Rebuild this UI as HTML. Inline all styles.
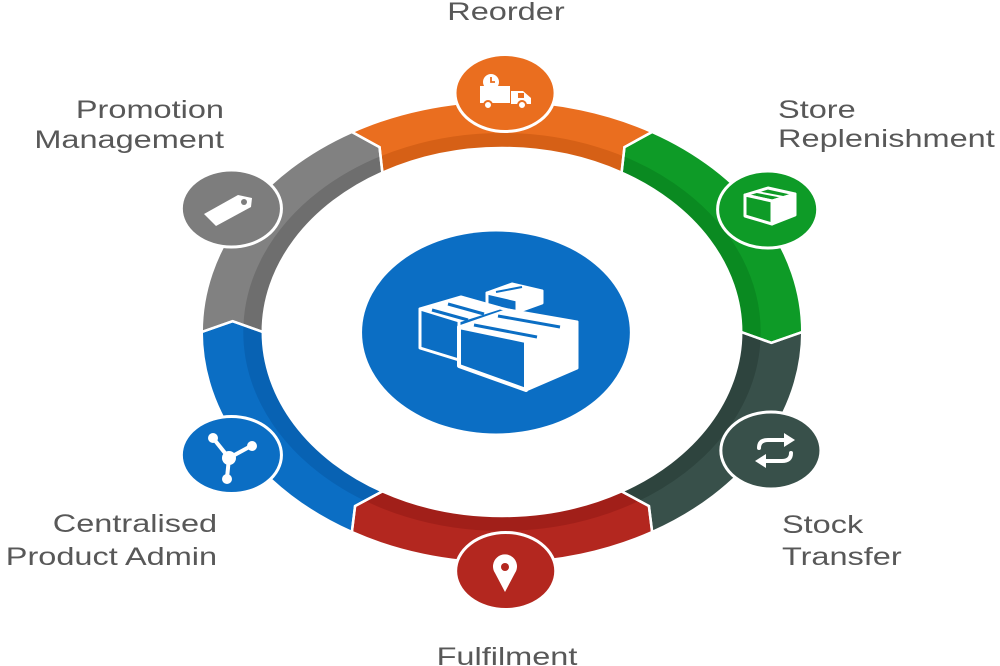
<!DOCTYPE html>
<html>
<head>
<meta charset="utf-8">
<style>
  html, body { margin:0; padding:0; background:#fff; }
  body { width:1000px; height:666px; overflow:hidden; }
  svg { display:block; }
  text { font-family:"Liberation Sans", "DejaVu Sans", sans-serif; font-size:25px; fill:#585858; }
</style>
</head>
<body>
<svg width="1000" height="666" viewBox="0 0 1000 666" xmlns="http://www.w3.org/2000/svg">
  <rect x="0" y="0" width="1000" height="666" fill="#ffffff"/>
  <defs>
    <clipPath id="cg"><path d="M617.15,332 A231,231 0 0 0 501.65,131.95 L480.35,147.12 L478.15,172.65 A184,184 0 0 1 570.15,332 L593.37,342.86 Z"/></clipPath>
    <clipPath id="co"><path d="M501.65,131.95 A231,231 0 0 0 270.65,131.95 L291.95,147.12 L294.15,172.65 A184,184 0 0 1 478.15,172.65 L480.35,147.12 Z"/></clipPath>
    <clipPath id="cy"><path d="M270.65,131.95 A231,231 0 0 0 155.15,332 L178.93,321.14 L202.15,332 A184,184 0 0 1 294.15,172.65 L291.95,147.12 Z"/></clipPath>
    <clipPath id="cb"><path d="M155.15,332 A231,231 0 0 0 270.65,532.05 L273.14,506.02 L294.15,491.35 A184,184 0 0 1 202.15,332 L178.93,321.14 Z"/></clipPath>
    <clipPath id="cr"><path d="M270.65,532.05 A231,231 0 0 0 501.65,532.05 L499.16,506.02 L478.15,491.35 A184,184 0 0 1 294.15,491.35 L273.14,506.02 Z"/></clipPath>
    <clipPath id="cd"><path d="M501.65,532.05 A231,231 0 0 0 617.15,332 L593.37,342.86 L570.15,332 A184,184 0 0 1 478.15,491.35 L499.16,506.02 Z"/></clipPath>
  </defs>

  <g transform="scale(1.3,1)">
    <!-- Green -->
    <g clip-path="url(#cg)">
      <rect x="0" y="0" width="800" height="666" fill="#0e9b27"/>
      <circle cx="386.15" cy="332" r="191.5" fill="none" stroke="#0a8a21" stroke-width="15"/>
    </g>
    <!-- Orange -->
    <g clip-path="url(#co)">
      <rect x="0" y="0" width="800" height="666" fill="#ea6e1f"/>
      <circle cx="386.15" cy="332" r="191.5" fill="none" stroke="#d66016" stroke-width="15"/>
    </g>
    <!-- Gray -->
    <g clip-path="url(#cy)">
      <rect x="0" y="0" width="800" height="666" fill="#818181"/>
      <circle cx="386.15" cy="332" r="191.5" fill="none" stroke="#6e6e6e" stroke-width="15"/>
    </g>
    <!-- Blue -->
    <g clip-path="url(#cb)">
      <rect x="0" y="0" width="800" height="666" fill="#0b6ec4"/>
      <circle cx="386.15" cy="332" r="191.5" fill="none" stroke="#0862b3" stroke-width="15"/>
    </g>
    <!-- Red -->
    <g clip-path="url(#cr)">
      <rect x="0" y="0" width="800" height="666" fill="#b3271f"/>
      <circle cx="386.15" cy="332" r="191.5" fill="none" stroke="#a11f19" stroke-width="15"/>
    </g>
    <!-- Dark slate -->
    <g clip-path="url(#cd)">
      <rect x="0" y="0" width="800" height="666" fill="#38504a"/>
      <circle cx="386.15" cy="332" r="191.5" fill="none" stroke="#2e443e" stroke-width="15"/>
    </g>

    <!-- white separators -->
    <g fill="none" stroke="#ffffff" stroke-width="2.5" vector-effect="non-scaling-stroke">
      <path vector-effect="non-scaling-stroke" d="M617.15,332 A231,231 0 0 0 501.65,131.95 L480.35,147.12 L478.15,172.65 A184,184 0 0 1 570.15,332 L593.37,342.86 Z"/>
      <path vector-effect="non-scaling-stroke" d="M501.65,131.95 A231,231 0 0 0 270.65,131.95 L291.95,147.12 L294.15,172.65 A184,184 0 0 1 478.15,172.65 L480.35,147.12 Z"/>
      <path vector-effect="non-scaling-stroke" d="M270.65,131.95 A231,231 0 0 0 155.15,332 L178.93,321.14 L202.15,332 A184,184 0 0 1 294.15,172.65 L291.95,147.12 Z"/>
      <path vector-effect="non-scaling-stroke" d="M155.15,332 A231,231 0 0 0 270.65,532.05 L273.14,506.02 L294.15,491.35 A184,184 0 0 1 202.15,332 L178.93,321.14 Z"/>
      <path vector-effect="non-scaling-stroke" d="M270.65,532.05 A231,231 0 0 0 501.65,532.05 L499.16,506.02 L478.15,491.35 A184,184 0 0 1 294.15,491.35 L273.14,506.02 Z"/>
      <path vector-effect="non-scaling-stroke" d="M501.65,532.05 A231,231 0 0 0 617.15,332 L593.37,342.86 L570.15,332 A184,184 0 0 1 478.15,491.35 L499.16,506.02 Z"/>
    </g>

    <!-- node circles -->
    <g stroke="#ffffff" stroke-width="3">
      <circle vector-effect="non-scaling-stroke" cx="388.5" cy="93" r="38.5" fill="#ea6e1f"/>
      <circle vector-effect="non-scaling-stroke" cx="590.5" cy="209.5" r="38.5" fill="#0e9b27"/>
      <circle vector-effect="non-scaling-stroke" cx="593" cy="450.5" r="38.5" fill="#38504a"/>
      <circle vector-effect="non-scaling-stroke" cx="389" cy="571" r="38.5" fill="#b3271f"/>
      <circle vector-effect="non-scaling-stroke" cx="178" cy="455" r="38.5" fill="#0b6ec4"/>
      <circle vector-effect="non-scaling-stroke" cx="178" cy="208.5" r="38.5" fill="#7d7d7d"/>
    </g>

    <!-- center circle -->
    <ellipse cx="381.5" cy="332.5" rx="103" ry="101" fill="#0b6ec4"/>

    <!-- labels -->
    <text x="389.2" y="20" text-anchor="middle">Reorder</text>
    <text x="172.3" y="118" text-anchor="end">Promotion</text>
    <text x="172.3" y="148" text-anchor="end">Management</text>
    <text x="598.5" y="118" text-anchor="start">Store</text>
    <text x="598.5" y="147" text-anchor="start">Replenishment</text>
    <text x="167" y="532" text-anchor="end">Centralised</text>
    <text x="167" y="565" text-anchor="end">Product Admin</text>
    <text x="601.5" y="533" text-anchor="start">Stock</text>
    <text x="601.5" y="565" text-anchor="start">Transfer</text>
    <text x="390" y="665" text-anchor="middle">Fulfilment</text>
  </g>

  <!-- ===== Icons (original coordinates) ===== -->

  <!-- Center boxes -->
  <g stroke="#ffffff" stroke-width="3" stroke-linejoin="round">
    <!-- small back box -->
    <polygon points="487,293 512,284 542,291 517,300" fill="#ffffff"/>
    <polygon points="487,293 517,300 517,312 487,305" fill="#0b6ec4"/>
    <polygon points="517,300 542,291 542,303 517,312" fill="#ffffff"/>
    <line x1="496" y1="292" x2="522" y2="287" stroke="#0b6ec4" stroke-width="2"/>
    <!-- left box -->
    <polygon points="420,309 461,297 500,308 459,321" fill="#ffffff"/>
    <polygon points="420,309 459,321 459,360 420,348" fill="#0b6ec4"/>
    <line x1="432" y1="310" x2="468" y2="320" stroke="#0b6ec4" stroke-width="3"/>
    <line x1="448" y1="304" x2="484" y2="314" stroke="#0b6ec4" stroke-width="3"/>
    <!-- front box -->
    <polygon points="459,327 508,310 577,322 526,341" fill="#ffffff"/>
    <polygon points="459,327 526,341 526,390 459,366" fill="#0b6ec4" stroke-width="4"/>
    <polygon points="526,341 577,322 577,368 526,390" fill="#ffffff"/>
    <line x1="474" y1="325" x2="537" y2="337" stroke="#0b6ec4" stroke-width="3"/>
    <line x1="498" y1="316" x2="560" y2="327" stroke="#0b6ec4" stroke-width="3"/>
  </g>

  <!-- Truck (Reorder) -->
  <g>
    <rect x="480" y="86" width="30" height="17" fill="#ffffff"/>
    <path d="M511,91 L523,91 L531,98 L531,104 L511,104 Z" fill="#ffffff"/>
    <rect x="518" y="93" width="6" height="5" fill="#ea6e1f"/>
    <circle cx="491" cy="82" r="8" fill="#ffffff"/>
    <path d="M491,77 L491,82 L495,82" fill="none" stroke="#ea6e1f" stroke-width="1.8"/>
    <circle cx="488" cy="105" r="4" fill="#ffffff" stroke="#ea6e1f" stroke-width="2"/>
    <circle cx="522" cy="105" r="4" fill="#ffffff" stroke="#ea6e1f" stroke-width="2"/>
  </g>

  <!-- Cube (Store Replenishment) -->
  <g stroke="#ffffff" stroke-width="3" stroke-linejoin="round">
    <polygon points="745,195 768,188 795,194 772,201" fill="#0e9b27"/>
    <polygon points="745,195 772,201 772,224 745,216" fill="#0e9b27"/>
    <polygon points="772,201 795,194 795,215 772,224" fill="#ffffff"/>
    <line x1="757" y1="192" x2="783" y2="197" stroke-width="2"/>
  </g>

  <!-- Exchange arrows (Stock Transfer) -->
  <g fill="none" stroke="#ffffff" stroke-width="4" stroke-linecap="round">
    <path d="M759,448 Q759,440 768,440 L786,440"/>
    <path d="M791,453 Q791,461 782,461 L764,461"/>
  </g>
  <polygon points="784,433 795,440 784,447" fill="#ffffff"/>
  <polygon points="766,454 755,461 766,468" fill="#ffffff"/>

  <!-- Map pin (Fulfilment) -->
  <path d="M505,592 L495,573 A12,12 0 1 1 515,573 Z" fill="#ffffff"/>
  <circle cx="505" cy="567" r="4" fill="#b3271f"/>

  <!-- Network (Centralised Product Admin) -->
  <g stroke="#ffffff" stroke-width="4">
    <line x1="213" y1="438" x2="229" y2="458"/>
    <line x1="251" y1="446" x2="229" y2="458"/>
    <line x1="227" y1="478" x2="229" y2="458"/>
  </g>
  <g fill="#ffffff">
    <circle cx="213" cy="438" r="5"/>
    <circle cx="252" cy="446" r="5"/>
    <circle cx="227" cy="479" r="5"/>
    <circle cx="229" cy="458" r="7"/>
  </g>

  <!-- Tag (Promotion Management) -->
  <path d="M204,214 L238,195 L252,198 L251,207 L216,226 Z" fill="#ffffff"/>
  <circle cx="244" cy="202" r="3" fill="#7d7d7d"/>
</svg>
</body>
</html>
